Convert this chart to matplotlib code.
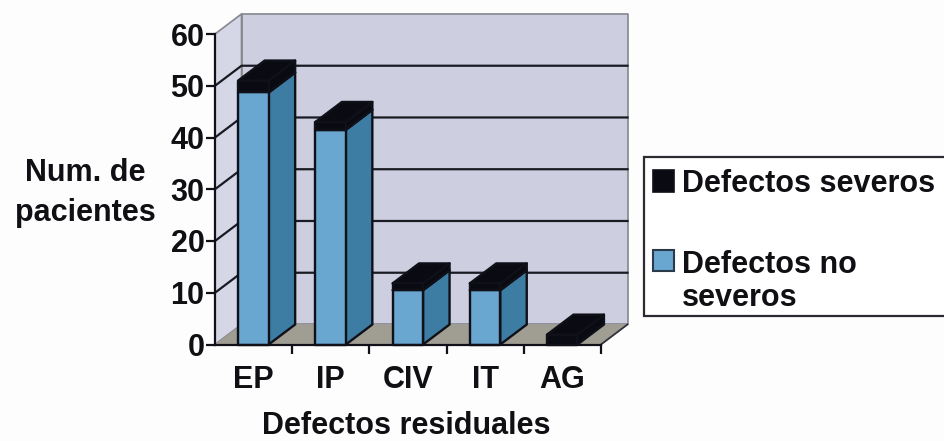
import matplotlib
matplotlib.use("Agg")
import matplotlib.pyplot as plt
from matplotlib.patches import Polygon, Rectangle

categories = ["EP", "IP", "CIV", "IT", "AG"]
no_severos = [48.7, 41.5, 10.5, 10.5, 0.0]
severos = [2.3, 1.5, 1.3, 1.3, 1.9]
y_ticks = [0, 10, 20, 30, 40, 50, 60]
x_label = "Defectos residuales"
y_label = "Num. de\npacientes"
legend_labels = ["Defectos severos", "Defectos no\nseveros"]

W, H = 944, 441
DX = 26.5 / 77.2   # depth offset in category units
DY = 20 / 5.17     # depth offset in value units
BAR_L, BAR_R = 0.30, 0.695
INK = "#101018"
FRONT, SIDE = "#69a6d0", "#3d7ca3"
DARK, DARK_SIDE = "#0a0a12", "#0a0a12"
FS = 22

plt.rcParams["font.family"] = ["Liberation Sans"]
plt.rcParams["font.weight"] = "bold"
fig = plt.figure(figsize=(W / 100, H / 100), dpi=100, facecolor="#fdfdfd")
ax = fig.add_axes([215 / W, 1 - 344.5 / H, 386 / W, 310.5 / H])
ax.set_xlim(0, 5)
ax.set_ylim(0, 60)
ax.patch.set_visible(False)
for s in ["top", "right"]:
    ax.spines[s].set_visible(False)
for s in ["left", "bottom"]:
    ax.spines[s].set_linewidth(1.6)
    ax.spines[s].set_color(INK)
    ax.spines[s].set_zorder(6)


def poly(pts, fc, z=1, ec=INK, lw=1.7):
    ax.add_patch(Polygon(pts, closed=True, facecolor=fc, edgecolor=ec, linewidth=lw,
                         zorder=z, clip_on=False, joinstyle="round"))


poly([(DX, DY), (5 + DX, DY), (5 + DX, 60 + DY), (DX, 60 + DY)], "#cdcee0", 1, "#85868e", 1.2)
poly([(0, 0), (DX, DY), (DX, 60 + DY), (0, 60)], "#d6d7e6", 1, "#85868e", 1.2)
poly([(0, 0), (5, 0), (5 + DX, DY), (DX, DY)], "#a09d92", 1, "none", 0)
ax.plot([5, 5 + DX], [0, DY], color="#30303a", lw=1.3, zorder=2, clip_on=False)

for v in y_ticks[1:-1]:
    ax.plot([0, DX, 5 + DX], [v, v + DY, v + DY], color="#1a1a22", lw=1.6, zorder=2, clip_on=False)


def box(left, bottom, top, front, side, z):
    right = left + BAR_R - BAR_L
    poly([(right, bottom), (right + DX, bottom + DY), (right + DX, top + DY), (right, top)], side, z)
    poly([(left, top), (right, top), (right + DX, top + DY), (left + DX, top + DY)], DARK, z)
    if top > bottom:
        poly([(left, bottom), (right, bottom), (right, top), (left, top)], front, z)


for i, (a, b) in enumerate(zip(no_severos, severos)):
    z = 3 + i * 0.1
    left = i + BAR_L
    if a > 0:
        box(left, 0, a, FRONT, SIDE, z)
    box(left, a, a + b, DARK, DARK_SIDE, z + 0.01)

ax.set_yticks(y_ticks)
ax.set_yticklabels([str(v) for v in y_ticks], fontsize=FS, color="#101014")
ax.set_xticks(range(1, 6))
ax.set_xticklabels([""] * 5)
ax.tick_params(axis="y", length=6.5, width=1.6, color=INK, pad=1)
ax.tick_params(axis="x", length=6.5, width=1.6, color=INK)
for i, c in enumerate(categories):
    ax.annotate(c, xy=(i + 0.5, 0), xytext=(0, -36), textcoords="offset points", ha="center", va="bottom",
                fontsize=FS, color="#101014", annotation_clip=False)

fig.text(85 / W, 1 - 193 / H, y_label, ha="center", va="center", fontsize=FS, color="#101014", linespacing=1.4)
fig.text(406 / W, 1 - 434 / H, x_label, ha="center", va="baseline", fontsize=FS, color="#101014")

fig.add_artist(Rectangle((643.5 / W, 1 - 315.5 / H), 320 / W, 158.5 / H, transform=fig.transFigure,
                         facecolor="white", edgecolor="#2a2a30", linewidth=1.6))
fig.add_artist(Rectangle((653 / W, 1 - 192 / H), 21 / W, 22 / H, transform=fig.transFigure,
                         facecolor=DARK, edgecolor=INK, linewidth=1.2))
fig.add_artist(Rectangle((653 / W, 1 - 271 / H), 21 / W, 21 / H, transform=fig.transFigure,
                         facecolor=FRONT, edgecolor="#2a3a4a", linewidth=1.5))
fig.text(682 / W, 1 - 192 / H, legend_labels[0], ha="left", va="baseline", fontsize=FS, color="#101014")
fig.text(682 / W, 1 - 306 / H, legend_labels[1], ha="left", va="baseline", fontsize=FS, color="#101014",
         linespacing=1.13)

fig.savefig("out.png", dpi=100, facecolor=fig.get_facecolor())
